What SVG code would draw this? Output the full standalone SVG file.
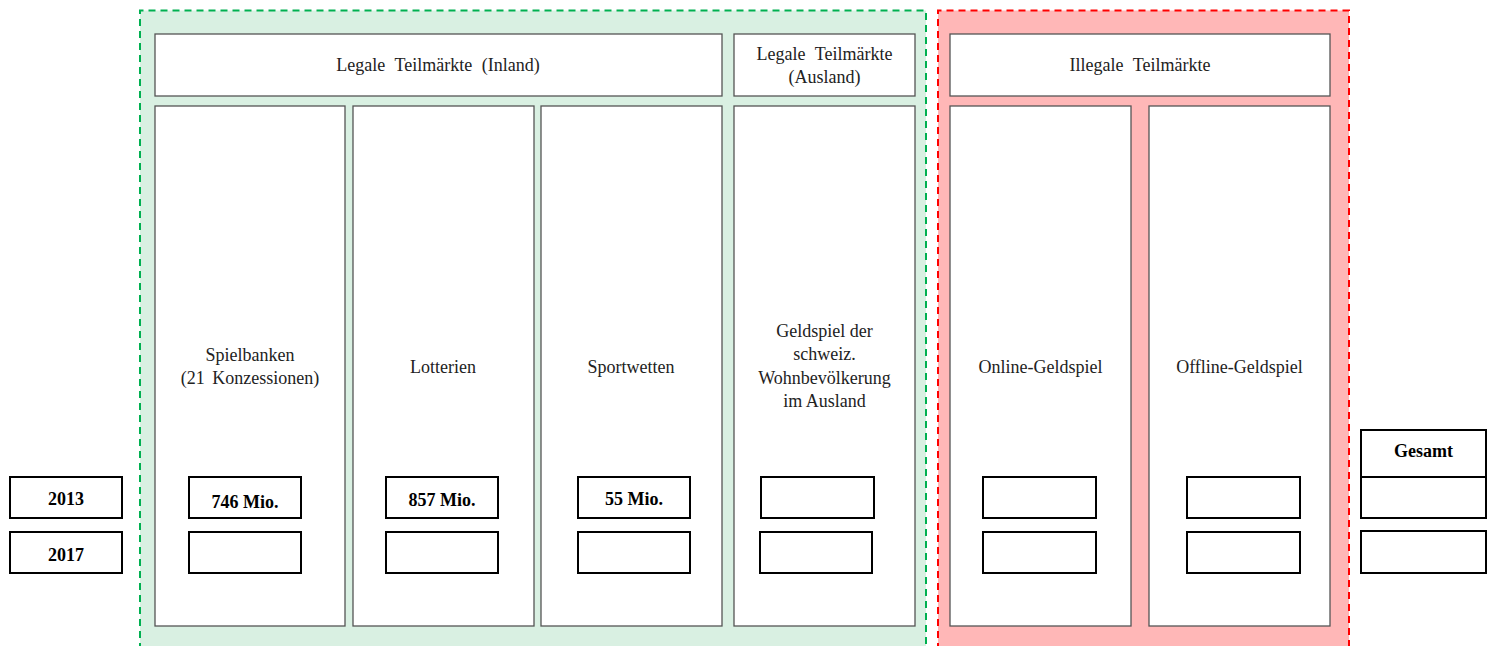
<svg xmlns="http://www.w3.org/2000/svg" width="1492" height="646" viewBox="0 0 1492 646">
<style>
.t{font-family:"Liberation Serif","Times New Roman",serif;font-size:18px;fill:#222;text-anchor:middle}
.h{word-spacing:5px}
.b{font-family:"Liberation Serif","Times New Roman",serif;font-size:18px;font-weight:bold;fill:#000;text-anchor:middle}
.col{fill:#fff;stroke:#555;stroke-width:1.3}
.val{fill:#fff;stroke:#000;stroke-width:2}
</style>
<rect width="1492" height="646" fill="#fff"/>
<g id="region-legal">
<path d="M140 650 V10.5 H926 V650" fill="#d9f0e2" stroke="#00b050" stroke-width="2" stroke-dasharray="7,5"/>
</g>
<g id="region-illegal">
<path d="M938 650 V10.5 H1349 V650" fill="#ffb7b7" stroke="#ff0000" stroke-width="2" stroke-dasharray="7,5"/>
</g>
<g id="hdr-inland"><rect class="col" x="155" y="34" width="567" height="62"/><text class="t h" x="438" y="71">Legale Teilmärkte (Inland)</text></g>
<g id="hdr-ausland"><rect class="col" x="734" y="34" width="181" height="62"/><text class="t h" x="824.5" y="60">Legale Teilmärkte</text><text class="t" x="824.5" y="83">(Ausland)</text></g>
<g id="hdr-illegal"><rect class="col" x="950" y="34" width="380" height="62"/><text class="t h" x="1140" y="71">Illegale Teilmärkte</text></g>
<g id="col-spielbanken"><rect class="col" x="155" y="106" width="190" height="520"/><text class="t" x="250" y="361">Spielbanken</text><text class="t" x="250" y="384" word-spacing="3">(21 Konzessionen)</text></g>
<g id="col-lotterien"><rect class="col" x="353" y="106" width="181" height="520"/><text class="t" x="443" y="373">Lotterien</text></g>
<g id="col-sportwetten"><rect class="col" x="541" y="106" width="181" height="520"/><text class="t" x="631" y="373">Sportwetten</text></g>
<g id="col-geldspiel"><rect class="col" x="734" y="106" width="181" height="520"/><text class="t" x="824.5" y="337">Geldspiel der</text><text class="t" x="824.5" y="360">schweiz.</text><text class="t" x="824.5" y="384">Wohnbevölkerung</text><text class="t" x="824.5" y="407">im Ausland</text></g>
<g id="col-online"><rect class="col" x="950" y="106" width="181" height="520"/><text class="t" x="1040.5" y="373">Online-Geldspiel</text></g>
<g id="col-offline"><rect class="col" x="1149" y="106" width="181" height="520"/><text class="t" x="1239.5" y="373">Offline-Geldspiel</text></g>
<g id="year-2013"><rect class="val" x="10" y="477" width="112" height="41"/><text class="b" x="66" y="505">2013</text></g>
<g id="year-2017"><rect class="val" x="10" y="532" width="112" height="41"/><text class="b" x="66" y="561">2017</text></g>
<g id="v-spielbanken-2013"><rect class="val" x="189" y="477" width="112" height="41"/><text class="b" x="245" y="508">746 Mio.</text></g>
<g id="v-spielbanken-2017"><rect class="val" x="189" y="532" width="112" height="41"/></g>
<g id="v-lotterien-2013"><rect class="val" x="386" y="477" width="112" height="41"/><text class="b" x="442" y="506">857 Mio.</text></g>
<g id="v-lotterien-2017"><rect class="val" x="386" y="532" width="112" height="41"/></g>
<g id="v-sportwetten-2013"><rect class="val" x="578" y="477" width="112" height="41"/><text class="b" x="634" y="505">55 Mio.</text></g>
<g id="v-sportwetten-2017"><rect class="val" x="578" y="532" width="112" height="41"/></g>
<g id="v-geldspiel-2013"><rect class="val" x="761" y="477" width="113" height="41"/></g>
<g id="v-geldspiel-2017"><rect class="val" x="760" y="532" width="112" height="41"/></g>
<g id="v-online-2013"><rect class="val" x="983" y="477" width="113" height="41"/></g>
<g id="v-online-2017"><rect class="val" x="983" y="532" width="113" height="41"/></g>
<g id="v-offline-2013"><rect class="val" x="1187" y="477" width="113" height="41"/></g>
<g id="v-offline-2017"><rect class="val" x="1187" y="532" width="113" height="41"/></g>
<g id="gesamt"><rect class="val" x="1361" y="430" width="125" height="47"/><text class="b" x="1423.5" y="457">Gesamt</text></g>
<g id="gesamt-2013"><rect class="val" x="1361" y="477" width="125" height="41"/></g>
<g id="gesamt-2017"><rect class="val" x="1361" y="531" width="125" height="42"/></g>
<g id="connectors"></g>
</svg>
